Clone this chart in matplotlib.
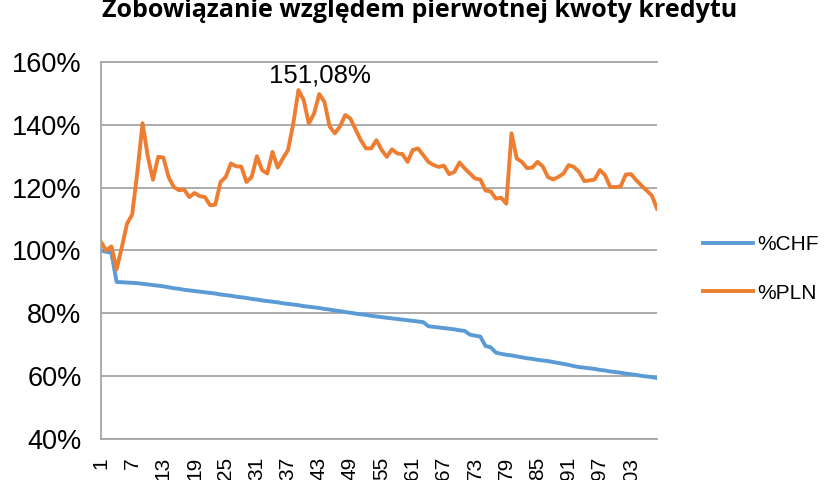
import matplotlib
matplotlib.use("Agg")
import matplotlib.pyplot as plt

# miesiace 1..108
months = list(range(1, 109))

chf = [100.0, 99.6, 99.3, 90.0, 89.9, 89.8, 89.7, 89.6, 89.4, 89.2,
       89.0, 88.8, 88.6, 88.3, 88.0, 87.8, 87.5, 87.3, 87.1, 86.9,
       86.7, 86.5, 86.3, 86.0, 85.8, 85.6, 85.3, 85.1, 84.9, 84.6,
       84.4, 84.1, 83.9, 83.7, 83.5, 83.2, 83.0, 82.8, 82.6, 82.3,
       82.1, 81.9, 81.7, 81.4, 81.2, 80.9, 80.7, 80.4, 80.2, 79.9,
       79.7, 79.5, 79.2, 79.0, 78.8, 78.6, 78.4, 78.2, 78.0, 77.8,
       77.6, 77.4, 77.2, 75.9, 75.7, 75.5, 75.3, 75.1, 74.9, 74.6,
       74.4, 73.2, 72.9, 72.6, 69.6, 69.2, 67.5, 67.1, 66.8, 66.6,
       66.3, 66.0, 65.7, 65.5, 65.2, 65.0, 64.8, 64.5, 64.2, 63.9,
       63.6, 63.2, 62.9, 62.7, 62.5, 62.3, 62.0, 61.8, 61.5, 61.3,
       61.1, 60.8, 60.6, 60.4, 60.1, 59.9, 59.7, 59.4]

pln = [102.7, 100.0, 101.3, 94.0, 101.0, 108.5, 111.5, 125.0, 140.5, 130.0,
       122.5, 129.8, 129.6, 123.4, 120.2, 119.2, 119.4, 117.0, 118.3, 117.3,
       117.0, 114.4, 114.6, 121.8, 123.4, 127.7, 126.8, 126.7, 121.8, 123.4,
       130.0, 125.6, 124.5, 131.4, 126.4, 129.3, 132.0, 140.4, 151.08, 147.9,
       140.4, 143.6, 149.8, 147.3, 139.5, 137.3, 139.5, 143.1, 142.0, 138.5,
       135.1, 132.5, 132.5, 135.1, 132.0, 129.8, 132.2, 130.9, 130.7, 128.2,
       132.0, 132.5, 130.4, 128.2, 127.2, 126.6, 127.0, 124.3, 125.0, 128.0,
       126.1, 124.5, 122.9, 122.6, 119.1, 118.8, 116.5, 116.8, 114.9, 137.3,
       129.3, 128.2, 126.2, 126.4, 128.2, 126.8, 123.4, 122.6, 123.4, 124.5,
       127.2, 126.6, 125.0, 122.1, 122.3, 122.6, 125.6, 124.0, 120.2, 120.2,
       120.4, 124.2, 124.3, 122.4, 120.7, 119.1, 117.5, 113.3]

xticks = list(range(1, 109, 6))
yticks = [40, 60, 80, 100, 120, 140, 160]

title = "Zobowiązanie względem pierwotnej kwoty kredytu"
peak_label = "151,08%"

plt.rcParams['font.family'] = ['Liberation Sans', 'DejaVu Sans']

fig = plt.figure(figsize=(8.4, 4.8), dpi=100)
ax = fig.add_axes([101/840, 41/480, 556/840, 377/480])

ax.plot(months, chf, color='#5B9BD5', lw=2.8, label='%CHF', solid_joinstyle='round')
ax.plot(months, pln, color='#ED7D31', lw=2.8, label='%PLN', solid_joinstyle='round')

ax.set_xlim(1, 108)
ax.set_ylim(40, 160)
ax.set_yticks(yticks)
ax.set_yticklabels([f"{v}%" for v in yticks], fontsize=19.5)
ax.set_xticks(xticks)
ax.set_xticklabels([str(v) for v in xticks], rotation=90, fontsize=15, va='top')
ax.tick_params(axis='y', length=0, pad=14)
ax.tick_params(axis='x', length=0, pad=13)

ax.grid(axis='y', color='#A6A6A6', lw=1.3)
ax.set_axisbelow(True)
ax.spines['right'].set_visible(False)
for s in ['left', 'bottom', 'top']:
    ax.spines[s].set_color('#A6A6A6')
    ax.spines[s].set_linewidth(1.3)

# etykieta maksimum
imax = pln.index(max(pln))
ax.annotate(peak_label, xy=(months[imax], pln[imax]), xytext=(21, 15),
            textcoords='offset pixels', ha='center', va='center', fontsize=18.5)

fig.legend(loc='center left', bbox_to_anchor=(703/840, 1 - 269/480), frameon=False,
           fontsize=15, handlelength=2.4, handletextpad=0.2, labelspacing=1.4,
           borderpad=0, borderaxespad=0)

fig.text(0.5, 1 - 17/480, title, ha='center', va='baseline', fontsize=18,
         fontweight='bold', family=['Open Sans', 'DejaVu Sans'])

fig.savefig('out.png', dpi=100)
